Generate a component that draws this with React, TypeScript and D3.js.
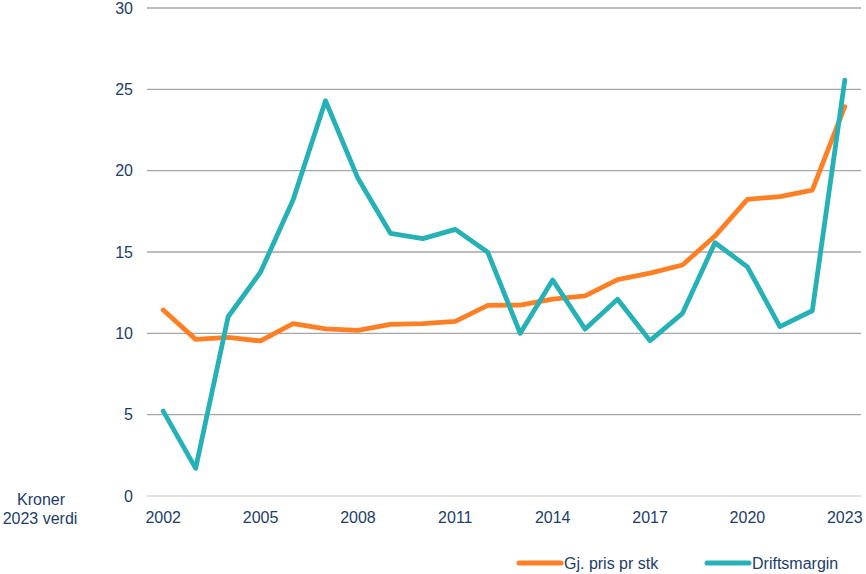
import React, { useEffect, useRef } from 'react';
import * as d3 from 'd3';

const years = d3.range(2002, 2024).map(String);
const prisPrStk = [11.43, 9.63, 9.75, 9.53, 10.6, 10.28, 10.18, 10.55, 10.6, 10.73, 11.72, 11.74, 12.1, 12.3, 13.3, 13.7, 14.2, 15.98, 18.24, 18.4, 18.8, 23.93];
const driftsmargin = [5.22, 1.7, 11.02, 13.77, 18.2, 24.3, 19.53, 16.15, 15.82, 16.39, 14.98, 10.0, 13.28, 10.26, 12.09, 9.55, 11.23, 15.57, 14.09, 10.41, 11.39, 25.57];
const yTicks = [0, 5, 10, 15, 20, 25, 30];
const xTickLabels = ['2002', '2005', '2008', '2011', '2014', '2017', '2020', '2023'];
const seriesNames = ['Gj. pris pr stk', 'Driftsmargin'];

const ORANGE = '#ff7f24';
const TEAL = '#25b1b6';
const TEXT = '#1c3d6a';
const FONT = '"Liberation Sans", Arial, sans-serif';

const Chart = () => {
    const svgRef = useRef(null);

    useEffect(() => {
        const svg = d3.select(svgRef.current);
        const width = 866;
        const height = 574;
        const marginLeft = 147;
        const marginRight = 5;
        const marginTop = 8;
        const plotBottom = 496;

        svg.attr('width', width).attr('height', height).selectAll('*').remove();

        const x = d3.scaleBand()
            .domain(years)
            .range([marginLeft, width - marginRight]);

        const y = d3.scaleLinear()
            .domain([0, 30])
            .range([plotBottom, marginTop]);

        const cx = d => x(d) + x.bandwidth() / 2;

        // gridlines
        svg.append('g')
            .selectAll('line')
            .data(yTicks)
            .enter()
            .append('line')
            .attr('x1', marginLeft)
            .attr('x2', width - marginRight)
            .attr('y1', d => y(d))
            .attr('y2', d => y(d))
            .attr('stroke', d => (d === 0 ? '#d9d9d9' : '#a6a6a6'))
            .attr('stroke-width', 1.4);

        // y tick labels
        svg.append('g')
            .selectAll('text')
            .data(yTicks)
            .enter()
            .append('text')
            .attr('x', 133)
            .attr('y', d => y(d))
            .attr('dy', '0.35em')
            .attr('text-anchor', 'end')
            .attr('fill', TEXT)
            .attr('font-family', FONT)
            .attr('font-size', 16)
            .text(d => d);

        // x tick labels
        svg.append('g')
            .selectAll('text')
            .data(xTickLabels)
            .enter()
            .append('text')
            .attr('x', d => cx(d))
            .attr('y', 523)
            .attr('text-anchor', 'middle')
            .attr('fill', TEXT)
            .attr('font-family', FONT)
            .attr('font-size', 16)
            .text(d => d);

        // axis unit label
        const unit = svg.append('text')
            .attr('text-anchor', 'middle')
            .attr('fill', TEXT)
            .attr('font-family', FONT)
            .attr('font-size', 16);
        unit.append('tspan').attr('x', 41).attr('y', 505).text('Kroner');
        unit.append('tspan').attr('x', 40).attr('y', 524).text('2023 verdi');

        const line = d3.line()
            .x((d, i) => cx(years[i]))
            .y(d => y(d));

        [[prisPrStk, ORANGE], [driftsmargin, TEAL]].forEach(([vals, color]) => {
            svg.append('path')
                .datum(vals)
                .attr('d', line)
                .attr('fill', 'none')
                .attr('stroke', color)
                .attr('stroke-width', 4.8)
                .attr('stroke-linejoin', 'round')
                .attr('stroke-linecap', 'round');
        });

        // legend
        const legendX = [519, 707];
        const legend = svg.append('g')
            .selectAll('g')
            .data(seriesNames)
            .enter()
            .append('g')
            .attr('transform', (d, i) => `translate(${legendX[i]}, 563)`);
        legend.append('line')
            .attr('x1', 0)
            .attr('x2', 42)
            .attr('stroke', (d, i) => [ORANGE, TEAL][i])
            .attr('stroke-width', 5)
            .attr('stroke-linecap', 'round');
        legend.append('text')
            .attr('x', 45)
            .attr('dy', '0.35em')
            .attr('fill', TEXT)
            .attr('font-family', FONT)
            .attr('font-size', 16)
            .text(d => d);
    }, []);

    return <svg ref={svgRef} style={{ position: 'absolute', left: 0, top: 0 }}></svg>;
};

export default function App() {
    return <Chart />;
}
